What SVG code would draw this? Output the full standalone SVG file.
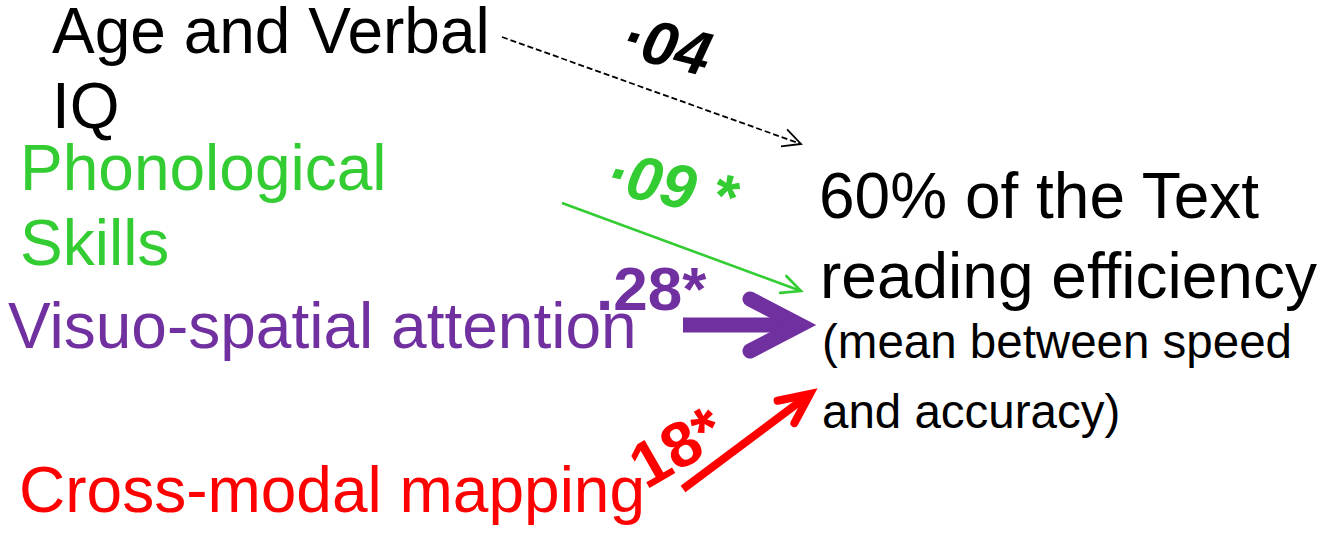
<svg xmlns="http://www.w3.org/2000/svg" width="1326" height="534" viewBox="0 0 1326 534">
<style>
text{font-family:"Liberation Sans",Arial,sans-serif}
.big{font-size:64px}
.sub{font-size:47.5px}
.lbl{font-weight:bold}
.blk{fill:#000}
.grn{fill:#33CC33}
.pur{fill:#7030A0}
.red{fill:#FF0000}
</style>
<defs>
<marker id="mBlack" markerUnits="userSpaceOnUse" viewBox="-24 -14 28 28" markerWidth="28" markerHeight="28" refX="0" refY="0" orient="auto" overflow="visible">
<path d="M-18,-9 L0,0 L-18,9" fill="none" stroke="#000" stroke-width="1.8"/>
</marker>
<marker id="mGreen" markerUnits="userSpaceOnUse" viewBox="-24 -14 28 28" markerWidth="28" markerHeight="28" refX="0" refY="0" orient="auto" overflow="visible">
<path d="M-19,-9 L0,0 L-19,9" fill="none" stroke="#33CC33" stroke-width="2.6" stroke-linecap="round"/>
</marker>
<marker id="mPurple" markerUnits="userSpaceOnUse" viewBox="-70 -40 90 80" markerWidth="90" markerHeight="80" refX="0" refY="0" orient="auto" overflow="visible">
<path d="M-50,-26 L0,0 L-50,26" fill="none" stroke="#7030A0" stroke-width="15" stroke-linecap="round" stroke-linejoin="miter"/>
</marker>
<marker id="mRed" markerUnits="userSpaceOnUse" viewBox="-45 -25 60 50" markerWidth="60" markerHeight="50" refX="0" refY="0" orient="auto" overflow="visible">
<path d="M-30,-14 L0,0 L-30,14" fill="none" stroke="#FF0000" stroke-width="8" stroke-linecap="round" stroke-linejoin="miter"/>
</marker>
</defs>

<g id="connectors" fill="none">
<line x1="502" y1="37" x2="801" y2="144" stroke="#000" stroke-width="1.8" stroke-dasharray="6,3" marker-end="url(#mBlack)"/>
<line x1="562" y1="203" x2="801" y2="291" stroke="#33CC33" stroke-width="2.6" marker-end="url(#mGreen)"/>
<line x1="683" y1="325" x2="800" y2="325" stroke="#7030A0" stroke-width="15" marker-end="url(#mPurple)"/>
<line x1="683" y1="489" x2="810" y2="394" stroke="#FF0000" stroke-width="8" marker-end="url(#mRed)"/>
</g>

<g id="labels">
<text class="lbl blk" font-size="62" font-style="italic" transform="rotate(14 618 55)" x="618" y="55">·04</text>
<text class="lbl grn" font-size="62" font-style="italic" transform="rotate(12 603 192)" x="603" y="192">·09 *</text>
<text class="lbl pur" font-size="62" x="596" y="310">.28*</text>
<text class="lbl red" font-size="64" transform="rotate(-30 646 490)" x="646" y="490">18*</text>
</g>

<g id="node-age"><text class="big blk" x="52" y="53">Age and Verbal</text><text class="big blk" x="52" y="128">IQ</text></g>
<g id="node-phon"><text class="big grn" x="20" y="190">Phonological</text><text class="big grn" x="20" y="265">Skills</text></g>
<g id="node-visuo"><text class="big pur" x="8" y="348">Visuo-spatial attention</text></g>
<g id="node-cross"><text class="big red" x="19" y="512">Cross-modal mapping</text></g>
<g id="node-outcome">
<text class="big blk" x="819" y="218">60% of the Text</text>
<text class="big blk" x="820" y="298">reading efficiency</text>
<text class="sub blk" x="822" y="358">(mean between speed</text>
<text class="sub blk" x="822" y="428">and accuracy)</text>
</g>
</svg>
